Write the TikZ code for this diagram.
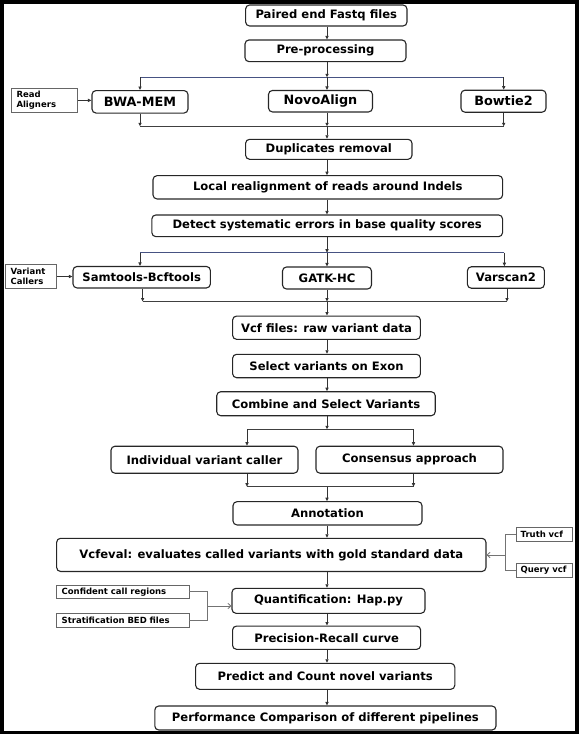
\documentclass[tikz,border=0pt]{standalone}
\usepackage{fontspec}
\setmainfont{DejaVu Sans}
\usetikzlibrary{arrows.meta}
\definecolor{branchblue}{RGB}{70,82,130}
\begin{document}
\begin{tikzpicture}[x=1pt,y=-1pt,
  box/.style={draw=black!85, line width=1.1pt, rounded corners=4pt, inner sep=0pt, font=\bfseries\fontsize{11.6}{13}\selectfont, align=center},
  bigbox/.style={box, font=\bfseries\fontsize{12.8}{14}\selectfont},
  lbl/.style={draw=black!60, line width=0.9pt, inner xsep=5pt, inner ysep=0pt, font=\bfseries\fontsize{8.5}{10}\selectfont, align=left},
  arr/.style={draw=black!80, line width=0.8pt, -{Triangle[length=3.5pt,width=3.2pt]}},
  ln/.style={draw=black!75, line width=0.8pt},
  brl/.style={draw=branchblue, line width=0.8pt},
  garr/.style={draw=black!55, line width=0.8pt, -{Straight Barb[length=3pt,width=5.5pt]}},
  gln/.style={draw=black!55, line width=0.8pt}]
\useasboundingbox (0,0) rectangle (579,736);
\draw[line width=3.6pt] (1.8,1.8) rectangle (577.2,732.6);

% main column
\coordinate (colx) at (327,0);

\node[box, minimum width=161.4pt, minimum height=21pt] (paired) at (326.3,15.5) {Paired end Fastq files};
\node[box, minimum width=161pt, minimum height=21.7pt] (pre) at (325.5,50.8) {Pre-processing};

\node[bigbox, minimum width=96pt, minimum height=22.5pt] (bwa) at (140,101.8) {BWA-MEM};
\node[bigbox, minimum width=104pt, minimum height=21.5pt] (novo) at (320.5,101.2) {NovoAlign};
\node[bigbox, minimum width=85pt, minimum height=22pt] (bowtie) at (503.5,101.2) {Bowtie2};
\node[lbl, text width=56pt, minimum height=23.8pt] (ra) at (44.5,100.4) {Read\\Aligners};

\node[box, minimum width=166.4pt, minimum height=20pt] (dup) at (328.8,149.3) {Duplicates removal};
\node[box, minimum width=349.6pt, minimum height=23.3pt] (local) at (327.8,187.3) {Local realignment of reads around Indels};
\node[box, minimum width=350.7pt, minimum height=21.7pt] (detect) at (327.2,225.8) {Detect systematic errors in base quality scores};

\node[box, minimum width=137.4pt, minimum height=21.5pt] (sam) at (141.7,277.2) {Samtools-Bcftools};
\node[box, minimum width=89pt, minimum height=22pt] (gatk) at (327,278) {GATK-HC};
\node[box, minimum width=77pt, minimum height=21.5pt] (varscan) at (505.9,277.5) {Varscan2};
\node[lbl, text width=41pt, minimum height=24.4pt] (vc) at (31.1,276.5) {Variant\\Callers};

\node[box, minimum width=187.8pt, minimum height=23.3pt] (vcf) at (326.5,327.7) {Vcf files: raw variant data};
\node[box, minimum width=187.8pt, minimum height=23.4pt] (select) at (326.5,366) {Select variants on Exon};
\node[box, minimum width=218.5pt, minimum height=24pt] (combine) at (326,403.7) {Combine and Select Variants};

\node[box, minimum width=187pt, minimum height=27pt] (indiv) at (204.5,459.7) {Individual variant caller};
\node[box, minimum width=187pt, minimum height=27pt] (cons) at (409.5,459.7) {Consensus approach};

\node[box, minimum width=189pt, minimum height=23.3pt] (annot) at (327.5,513.3) {Annotation};
\node[box, minimum width=429.3pt, minimum height=33.2pt] (vcfeval) at (271.3,554.9) {Vcfeval: evaluates called variants with gold standard data};
\node[lbl, inner xsep=4pt, text width=47.3pt, minimum height=14pt] (truth) at (544.3,534.7) {Truth vcf};
\node[lbl, inner xsep=4pt, text width=47.3pt, minimum height=14.3pt] (query) at (544.3,570.2) {Query vcf};

\node[box, minimum width=193pt, minimum height=25pt] (quant) at (328.5,600.8) {Quantification: Hap.py};
\node[lbl, text width=122.3pt, minimum height=13.3pt] (conf) at (122.8,591.7) {Confident call regions};
\node[lbl, text width=122.3pt, minimum height=13.7pt] (strat) at (122.8,620.2) {Stratification BED files};

\node[box, minimum width=188.1pt, minimum height=23.3pt] (prec) at (326.6,637.7) {Precision-Recall curve};
\node[box, minimum width=259.2pt, minimum height=26pt] (predict) at (325.2,676.3) {Predict and Count novel variants};
\node[box, minimum width=341.2pt, minimum height=24pt] (perf) at (325.4,718) {Performance Comparison of different pipelines};

% connectors: top
\draw[arr] (paired.south -| colx) -- (pre.north -| colx);
\coordinate (br1) at (327,77.3);
\coordinate (br1L) at (140,77.3);
\coordinate (br1R) at (503.7,77.3);
\draw[arr] (pre.south -| colx) -- (br1);
\draw[brl] (br1L) -- (br1R);
\draw[arr] (br1L) -- (bwa.north -| br1L);
\draw[arr] (br1) -- (novo.north -| br1);
\draw[arr] (br1R) -- (bowtie.north -| br1R);
\draw[arr] (ra.east) -- (ra.east -| bwa.west);

\coordinate (mg1) at (327,126.3);
\coordinate (mg1L) at (140,126.3);
\coordinate (mg1R) at (503.7,126.3);
\draw[ln] (mg1L) -- (mg1R);
\draw[arr] (bwa.south -| mg1L) -- (mg1L);
\draw[arr] (novo.south -| mg1) -- (mg1);
\draw[arr] (bowtie.south -| mg1R) -- (mg1R);
\draw[arr] (mg1) -- (dup.north -| mg1);

\draw[arr] (dup.south -| colx) -- (local.north -| colx);
\draw[arr] (local.south -| colx) -- (detect.north -| colx);

\coordinate (br2) at (327,252.7);
\coordinate (br2L) at (140,252.7);
\coordinate (br2R) at (504.4,252.7);
\draw[arr] (detect.south -| colx) -- (br2);
\draw[brl] (br2L) -- (br2R);
\draw[arr] (br2L) -- (sam.north -| br2L);
\draw[arr] (br2) -- (gatk.north -| br2);
\draw[arr] (br2R) -- (varscan.north -| br2R);
\draw[arr] (vc.east) -- (vc.east -| sam.west);

\coordinate (mg2) at (327,301.5);
\coordinate (mg2L) at (142.6,301.5);
\coordinate (mg2R) at (507,301.5);
\draw[ln] (mg2L) -- (mg2R);
\draw[arr] (sam.south -| mg2L) -- (mg2L);
\draw[arr] (gatk.south -| mg2) -- (mg2);
\draw[arr] (varscan.south -| mg2R) -- (mg2R);
\draw[arr] (mg2) -- (vcf.north -| mg2);

\draw[arr] (vcf.south -| colx) -- (select.north -| colx);
\draw[arr] (select.south -| colx) -- (combine.north -| colx);

\coordinate (br3) at (327,429.3);
\coordinate (br3L) at (247,429.3);
\coordinate (br3R) at (413.5,429.3);
\draw[arr] (combine.south -| colx) -- (br3);
\draw[ln] (br3L) -- (br3R);
\draw[arr] (br3L) -- (indiv.north -| br3L);
\draw[arr] (br3R) -- (cons.north -| br3R);

\coordinate (mg3) at (327,486.6);
\coordinate (mg3L) at (247,486.6);
\coordinate (mg3R) at (413.5,486.6);
\draw[ln] (mg3L) -- (mg3R);
\draw[arr] (indiv.south -| mg3L) -- (mg3L);
\draw[arr] (cons.south -| mg3R) -- (mg3R);
\draw[arr] (mg3) -- (annot.north -| mg3);

\draw[arr] (annot.south -| colx) -- (vcfeval.north -| colx);

\coordinate (tq) at (505.3,555);
\draw[gln] (truth.west) -| (tq) |- (query.west);
\draw[garr] (tq) -- (tq -| vcfeval.east);

\draw[arr] (vcfeval.south -| colx) -- (quant.north -| colx);

\coordinate (cs) at (207.4,606);
\draw[gln] (conf.east) -| (cs) |- (strat.east);
\draw[garr] (cs) -- (cs -| quant.west);

\draw[arr] (quant.south -| colx) -- (prec.north -| colx);
\draw[arr] (prec.south -| colx) -- (predict.north -| colx);
\draw[arr] (predict.south -| colx) -- (perf.north -| colx);
\end{tikzpicture}
\end{document}
